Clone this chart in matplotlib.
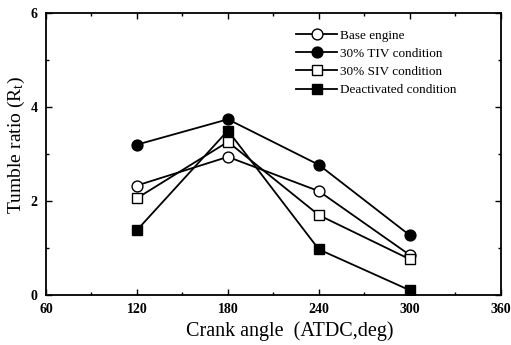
import matplotlib
matplotlib.use('Agg')
import matplotlib.pyplot as plt
from matplotlib.ticker import MultipleLocator

plt.rcParams['font.family'] = 'Liberation Serif'
plt.rcParams['mathtext.fontset'] = 'custom'
plt.rcParams['mathtext.rm'] = 'Liberation Serif'
plt.rcParams['mathtext.it'] = 'Liberation Serif:italic'

# Data
crank = [120, 180, 240, 300]
base_engine = [2.33, 2.94, 2.21, 0.85]
tiv_30 = [3.20, 3.74, 2.77, 1.27]
siv_30 = [2.06, 3.26, 1.70, 0.76]
deactivated = [1.38, 3.50, 0.97, 0.10]

fig = plt.figure(figsize=(5.11, 3.45), dpi=100)
ax = fig.add_axes([0.090, 0.145, 0.890, 0.817])

kw = dict(color='black', lw=1.3, ms=7.8, mew=1.0)
ax.plot(crank, base_engine, marker='o', mfc='white', label='Base engine', **kw)
ax.plot(crank, tiv_30, marker='o', mfc='black', label='30% TIV condition', **kw)
ax.plot(crank, siv_30, marker='s', mfc='white', label='30% SIV condition', **kw)
ax.plot(crank, deactivated, marker='s', mfc='black', label='Deactivated condition', **kw)

ax.set_xlim(60, 360)
ax.set_ylim(0, 6)
ax.xaxis.set_major_locator(MultipleLocator(60))
ax.xaxis.set_minor_locator(MultipleLocator(30))
ax.yaxis.set_major_locator(MultipleLocator(2))
ax.yaxis.set_minor_locator(MultipleLocator(1))
ax.tick_params(which='both', direction='in', top=True, right=True, labelsize=10, width=1.0)
ax.tick_params(which='major', length=4, pad=6)
ax.tick_params(which='minor', length=2.5)
for lab in ax.get_xticklabels() + ax.get_yticklabels():
    lab.set_fontweight('bold')
for sp in ax.spines.values():
    sp.set_linewidth(1.3)

ax.set_xlabel('Crank angle  (ATDC,deg)', fontsize=14.5)
ax.set_ylabel('Tumble ratio (R$_\\mathrm{t}$)', fontsize=14)
ax.xaxis.set_label_coords(0.535, -0.095)
ax.yaxis.set_label_coords(-0.042, 0.53)

ax.legend(loc='upper left', bbox_to_anchor=(0.53, 0.975), frameon=False, fontsize=9.5,
          handlelength=3.1, handletextpad=0.2, labelspacing=0.45, borderpad=0.2)

fig.savefig('out.png', dpi=100)
